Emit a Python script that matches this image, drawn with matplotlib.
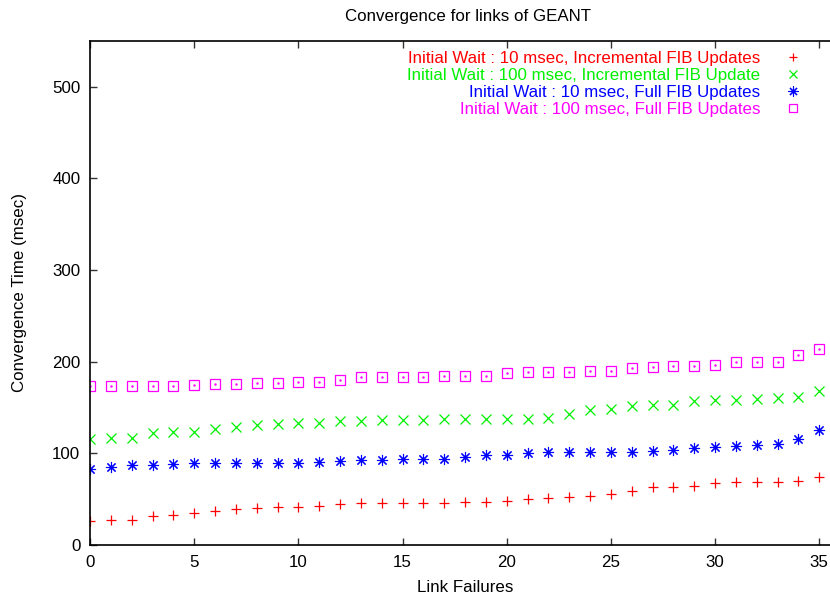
import matplotlib
matplotlib.use("Agg")
import matplotlib.pyplot as plt
import numpy as np

plt.rcParams['font.family'] = ['Liberation Sans', 'DejaVu Sans']

# link failure index
failures = np.arange(36)

# convergence times (msec)
inc_10 = [26, 27, 27, 32, 33, 35, 37, 39, 40, 42, 42, 43, 45, 46, 46, 46, 46, 46,
          47, 47, 48, 50, 51, 52, 53, 56, 59, 63, 63, 64, 68, 69, 69, 69, 70, 74]
inc_100 = [116, 117, 117, 122, 123, 123, 127, 129, 131, 132, 133, 133, 135, 135, 136, 136, 136, 137,
           138, 138, 138, 138, 139, 143, 147, 148, 152, 153, 153, 157, 158, 158, 159, 160, 161, 168]
full_10 = [83, 85, 87, 87, 88, 89, 89, 89, 89, 90, 90, 91, 92, 93, 93, 94, 94, 94,
           96, 98, 98, 100, 101, 101, 101, 102, 102, 103, 104, 106, 107, 108, 109, 110, 116, 126]
full_100 = [173, 173, 173, 173, 174, 175, 176, 176, 177, 177, 178, 178, 180, 183, 183, 183, 183, 184,
            184, 184, 188, 189, 189, 189, 190, 190, 193, 194, 195, 195, 196, 200, 200, 200, 207, 214]

labels = ['Initial Wait : 10 msec, Incremental FIB Updates',
          'Initial Wait : 100 msec, Incremental FIB Update',
          'Initial Wait : 10 msec, Full FIB Updates',
          'Initial Wait : 100 msec, Full FIB Updates']
colors = ['#ff0000', '#00f000', '#0000ff', '#ff00ff']

fs = 12.2

fig = plt.figure(figsize=(8.3, 5.97), dpi=100)
ax = fig.add_axes([90/830, 52/597, 740/830, 504/597])

ax.plot(failures, inc_10, ls='none', marker='+', ms=7, mew=0.9, color=colors[0], label=labels[0])
ax.plot(failures, inc_100, ls='none', marker='x', ms=7, mew=0.9, color=colors[1], label=labels[1])
ax.plot(failures, full_10, ls='none', marker=(8, 2, 0), ms=8, mew=0.8, color=colors[2], label=labels[2])
ax.plot(failures, full_100, ls='none', marker='s', ms=7, mew=0.9, mfc='none', color=colors[3], label=labels[3])
ax.plot(failures, full_100, ls='none', marker='.', ms=1.5, color=colors[3])

ax.set_xlim(0, 35.52)
ax.set_ylim(0, 550)
ax.set_xticks(np.arange(0, 36, 5))
ax.set_yticks(np.arange(0, 501, 100))
ax.tick_params(direction='in', top=True, right=False, length=5, width=1,
               labelsize=fs, pad=7, colors='#333333', labelcolor='black')
ax.spines['right'].set_visible(False)
for s in ['left', 'bottom', 'top']:
    ax.spines[s].set_linewidth(1.2)

fig.text(468/830, 1 - 16/597, 'Convergence for links of GEANT', ha='center', va='center', fontsize=fs)
fig.text(465/830, 1 - 587/597, 'Link Failures', ha='center', va='center', fontsize=fs)
fig.text(20/830, 1 - 293/597, 'Convergence Time (msec)', ha='center', va='center',
         rotation=90, fontsize=fs)

leg = ax.legend(loc='upper right', bbox_to_anchor=(808/830, 1 - 51/597),
                bbox_transform=fig.transFigure, frameon=False, markerfirst=False,
                fontsize=fs, handlelength=1.8, handletextpad=1.0, labelspacing=0.12,
                borderpad=0, borderaxespad=0, markerscale=0.9)
for t, c in zip(leg.get_texts(), colors):
    t.set_color(c)

fig.savefig('out.png', dpi=100)
